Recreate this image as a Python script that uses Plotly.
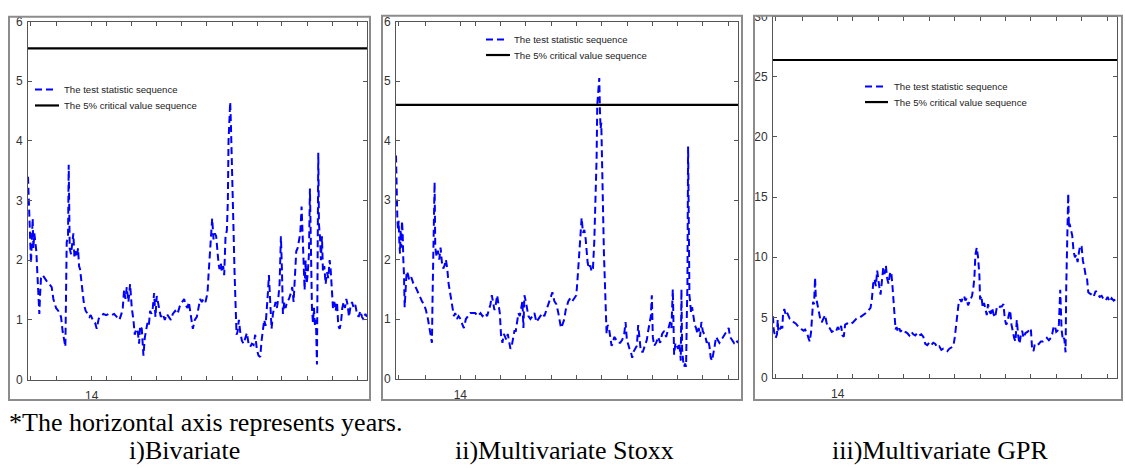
import plotly.graph_objects as go

W, H = 1125, 468

# ---------------- data ----------------
# i) Bivariate: observation index and test statistic
bi_obs = [0, 4, 6, 9, 12, 14, 16, 19, 22, 25, 27, 29, 32, 34, 36, 39, 44, 49, 56, 64, 71, 76, 84, 91, 99,
          104, 109, 112, 116, 120, 122, 125, 129, 133, 136, 139, 142, 146, 150, 153, 156, 161, 164, 168,
          173, 178, 184, 188, 194, 201, 206, 212, 218, 226, 234, 242, 250, 258, 266, 274, 280, 284, 288,
          292, 296, 301, 306, 311, 316, 320, 324, 329, 333, 336, 341, 346, 350, 354, 358, 362, 366, 370,
          374, 378, 382, 386, 390, 394, 398, 404, 410, 416, 422, 428, 434, 441, 448, 456, 462, 468, 472,
          478, 482, 486, 490, 494, 500, 506, 510, 516, 521, 526, 532, 538, 541, 544, 548, 552, 556, 560,
          564, 568, 571, 574, 578, 581, 585, 588, 592, 596, 599, 601, 603, 606, 608, 610, 613, 616, 619,
          622, 625, 628, 632, 636, 641, 646, 651, 656, 661, 666, 671, 676, 681, 686, 691, 696, 700, 704,
          708, 712, 716, 719, 722, 726, 730, 734, 738, 742, 746, 750, 754, 758, 761, 764, 768, 772, 776,
          782, 788, 792, 796, 800, 804, 808, 812, 816, 820, 823, 826, 829, 832, 835, 838, 842, 845, 848,
          851, 854, 857, 860, 863, 866, 868, 870, 872, 875, 878, 881, 884, 888, 892, 896, 900, 904, 907,
          910, 914, 918, 922, 926, 930, 934, 938, 942, 946, 950, 954, 958, 962, 966, 971, 976, 981, 986,
          991, 996, 1001, 1006, 1011, 1016]
bi_stat = [3.4, 2.8, 2.3, 1.95, 2.4, 2.7, 2.2, 2.45, 2.3, 2.15, 1.9, 1.6, 1.3, 1.1, 1.4, 1.7, 1.75, 1.7,
           1.65, 1.6, 1.55, 1.35, 1.2, 1.15, 1.05, 0.8, 0.65, 0.55, 2.3, 2.4, 3.6, 2.2, 2.1, 2.3, 2.45,
           2.05, 2.15, 2.05, 2.2, 1.9, 1.85, 1.6, 1.45, 1.25, 1.15, 1.1, 1.05, 1.08, 1.0, 0.95, 0.85,
           1.02, 1.05, 1.1, 1.08, 1.1, 1.08, 1.1, 1.05, 1.0, 1.1, 1.2, 1.5, 1.35, 1.55, 1.3, 1.6, 1.2,
           1.0, 0.75, 0.85, 0.8, 0.6, 0.9, 0.85, 0.4, 0.7, 0.8, 0.95, 0.9, 1.15, 1.1, 1.2, 1.45, 1.05,
           1.4, 1.3, 1.2, 1.05, 1.1, 1.0, 1.1, 1.05, 1.0, 1.1, 1.15, 1.1, 1.25, 1.3, 1.35, 1.25, 1.2,
           1.3, 1.1, 1.0, 0.85, 1.0, 1.05, 1.2, 1.35, 1.3, 1.35, 1.3, 1.45, 1.75, 2.0, 2.3, 2.7, 2.35,
           2.45, 2.4, 2.1, 1.95, 1.85, 1.95, 1.8, 1.9, 1.75, 2.4, 2.5, 3.0, 4.0, 4.4, 4.65, 4.3, 3.9,
           3.5, 2.5, 1.8, 1.4, 0.75, 0.8, 1.0, 0.8, 0.65, 0.6, 0.7, 0.78, 0.6, 0.55, 0.6, 0.58, 0.75,
           0.5, 0.4, 0.38, 0.65, 0.85, 1.0, 0.9, 1.15, 1.45, 1.75, 1.3, 0.85, 1.1, 1.2, 1.3, 1.2, 1.35,
           1.6, 2.4, 1.85, 1.1, 1.3, 1.2, 1.3, 1.35, 1.45, 1.55, 1.3, 1.75, 2.15, 2.2, 2.3, 2.45, 2.9,
           2.5, 2.2, 1.5, 2.0, 1.6, 1.75, 2.1, 3.2, 1.9, 1.2, 0.95, 1.2, 0.9, 1.0, 0.25, 2.7, 3.8, 2.6,
           2.4, 2.0, 2.4, 1.8, 1.9, 1.6, 1.8, 1.7, 2.0, 1.85, 1.6, 1.2, 1.3, 1.15, 1.3, 0.9, 0.85, 0.95,
           1.2, 1.3, 1.2, 1.35, 1.25, 1.05, 1.2, 1.3, 1.2, 1.25, 1.1, 1.05, 1.15, 1.05, 1.0, 1.1, 1.05]
bi_crit = 5.55

# ii) Multivariate Stoxx
st_obs = [0, 2, 4, 6, 8, 10, 12, 14, 16, 18, 20, 22, 24, 26, 28, 32, 36, 40, 46, 52, 58, 66, 72, 78, 84,
          90, 96, 100, 104, 108, 110, 113, 116, 118, 122, 126, 130, 134, 138, 142, 146, 150, 154, 158,
          162, 166, 170, 174, 178, 183, 188, 194, 200, 204, 210, 216, 223, 230, 238, 246, 254, 260, 268,
          274, 280, 284, 288, 292, 296, 300, 304, 308, 312, 316, 320, 324, 328, 332, 336, 340, 344, 348,
          352, 356, 360, 364, 368, 372, 376, 380, 383, 386, 390, 394, 398, 404, 410, 416, 422, 428, 434,
          440, 446, 452, 458, 464, 470, 476, 482, 488, 492, 496, 500, 506, 510, 514, 518, 524, 530, 536,
          542, 546, 550, 554, 558, 562, 566, 570, 572, 576, 580, 584, 588, 592, 596, 599, 601, 603, 605,
          607, 609, 611, 613, 615, 617, 619, 622, 625, 628, 630, 633, 636, 640, 644, 648, 652, 656, 662,
          668, 674, 680, 686, 690, 694, 698, 702, 706, 710, 714, 718, 724, 728, 732, 736, 742, 748, 754,
          758, 762, 766, 769, 772, 776, 782, 788, 794, 800, 806, 812, 818, 824, 828, 832, 836, 840, 844,
          848, 852, 856, 858, 860, 863, 866, 869, 872, 874, 876, 878, 880, 882, 884, 887, 890, 894, 898,
          902, 906, 910, 914, 918, 922, 926, 930, 934, 938, 942, 946, 950, 954, 958, 962, 966, 972, 978,
          984, 990, 996, 1000, 1004, 1010, 1016, 1022, 1028]
st_stat = [3.75, 3.0, 2.7, 2.5, 2.65, 2.3, 2.1, 2.5, 2.2, 2.65, 2.45, 2.0, 1.75, 1.2, 1.5, 1.8, 1.75,
           1.65, 1.7, 1.6, 1.55, 1.45, 1.35, 1.3, 1.25, 1.15, 1.0, 0.85, 0.7, 0.6, 1.4, 2.2, 3.3, 2.2,
           2.05, 2.15, 2.0, 2.2, 1.95, 1.85, 1.9, 2.0, 1.85, 1.6, 1.45, 1.3, 1.15, 1.05, 1.1, 1.0, 1.05,
           1.0, 0.9, 0.85, 1.0, 1.05, 1.1, 1.1, 1.1, 1.05, 1.1, 1.05, 1.1, 1.05, 1.15, 1.25, 1.4, 1.3,
           1.15, 1.25, 1.4, 1.25, 1.1, 0.7, 0.6, 0.75, 0.7, 0.65, 0.75, 0.65, 0.5, 0.55, 0.7, 0.8, 0.8,
           1.0, 1.1, 1.05, 1.2, 1.3, 0.85, 1.4, 1.3, 1.2, 1.05, 1.0, 1.05, 1.1, 0.95, 1.0, 1.05, 1.1,
           1.05, 1.15, 1.25, 1.35, 1.45, 1.3, 1.25, 1.1, 0.95, 0.85, 0.9, 1.0, 1.15, 1.25, 1.3, 1.35,
           1.3, 1.35, 1.4, 1.7, 2.1, 2.5, 2.7, 2.45, 2.5, 2.35, 2.2, 1.95, 1.85, 1.9, 1.8, 1.85, 2.3,
           2.9, 3.0, 3.7, 4.6, 4.8, 5.0, 5.05, 4.5, 4.2, 4.3, 3.6, 2.8, 2.1, 1.6, 1.0, 0.75, 0.9, 0.85,
           0.7, 0.55, 0.6, 0.7, 0.65, 0.6, 0.6, 0.65, 0.75, 0.95, 0.65, 0.55, 0.5, 0.45, 0.35, 0.45,
           0.5, 0.55, 0.9, 0.6, 0.45, 0.45, 0.55, 0.65, 0.8, 0.9, 1.05, 1.4, 0.7, 0.55, 0.6, 0.7, 0.6,
           0.75, 0.8, 0.7, 0.85, 0.95, 0.85, 1.5, 0.4, 0.6, 0.55, 0.5, 0.6, 0.3, 1.5, 0.5, 0.3, 0.2,
           0.25, 0.2, 1.0, 1.6, 3.9, 1.5, 1.4, 1.3, 1.1, 1.2, 1.05, 0.9, 0.85, 0.75, 0.85, 0.7, 0.95,
           0.8, 0.75, 0.7, 0.6, 0.65, 0.55, 0.35, 0.3, 0.4, 0.55, 0.7, 0.65, 0.6, 0.65, 0.7, 0.75, 0.8,
           0.85, 0.7, 0.65, 0.6, 0.65, 0.6]
st_crit = 4.6

# iii) Multivariate GPR
gp_obs = [0, 2, 5, 8, 12, 14, 16, 20, 24, 28, 30, 34, 38, 42, 46, 50, 56, 62, 68, 74, 80, 86, 92, 96, 102,
          106, 110, 114, 116, 118, 120, 123, 126, 128, 130, 134, 138, 142, 146, 150, 156, 160, 164, 170,
          176, 182, 188, 194, 200, 204, 208, 212, 216, 222, 230, 240, 250, 260, 270, 280, 286, 292, 296,
          300, 304, 308, 312, 315, 318, 322, 326, 330, 334, 338, 342, 346, 350, 354, 358, 361, 364, 367,
          370, 374, 378, 382, 386, 390, 396, 402, 408, 414, 420, 426, 432, 438, 444, 450, 456, 462, 468,
          474, 480, 486, 492, 498, 504, 510, 516, 522, 528, 534, 540, 544, 548, 552, 556, 560, 564, 568,
          572, 576, 580, 584, 588, 592, 596, 600, 603, 606, 610, 614, 618, 620, 624, 628, 632, 636, 640,
          644, 648, 652, 656, 660, 665, 670, 675, 680, 685, 690, 694, 698, 702, 706, 710, 714, 718, 722,
          726, 730, 734, 738, 742, 746, 750, 756, 762, 768, 772, 776, 780, 784, 790, 796, 802, 808, 814,
          820, 826, 832, 836, 840, 844, 848, 852, 856, 860, 864, 868, 872, 876, 878, 880, 882, 884, 886,
          888, 892, 896, 900, 904, 908, 912, 916, 920, 924, 928, 932, 936, 940, 944, 948, 954, 960, 966,
          972, 978, 984, 990, 996, 1002, 1008, 1014, 1020, 1026, 1030]
gp_stat = [5.1, 4.0, 3.6, 3.3, 3.6, 4.8, 3.8, 4.0, 4.2, 4.1, 5.3, 5.7, 5.2, 5.4, 5.1, 4.9, 4.8, 4.6, 4.5,
           4.3, 4.1, 4.0, 3.9, 4.0, 3.7, 3.3, 3.0, 3.8, 5.0, 6.0, 6.3, 6.1, 8.3, 6.8, 6.5, 5.8, 5.5, 4.8,
           4.6, 4.9, 5.2, 4.6, 4.2, 4.1, 3.8, 3.9, 3.8, 4.2, 3.9, 4.3, 3.5, 3.4, 4.4, 4.5, 4.4, 4.6, 4.9,
           5.0, 5.2, 5.4, 5.6, 5.8, 6.5, 7.8, 8.2, 7.6, 8.9, 8.0, 7.6, 6.9, 8.4, 9.1, 8.6, 9.3, 8.2, 7.8,
           8.6, 8.8, 7.5, 6.0, 4.5, 4.0, 4.2, 3.8, 4.1, 3.8, 4.0, 3.9, 3.8, 3.7, 3.5, 3.8, 3.6, 3.5, 3.7,
           3.5, 3.6, 3.4, 2.8, 2.7, 2.9, 2.7, 2.9, 2.8, 2.5, 2.6, 2.3, 2.4, 2.3, 2.2, 2.4, 2.5, 2.6, 3.3,
           4.2, 5.0, 6.2, 6.5, 6.3, 6.6, 6.8, 6.4, 6.6, 6.0, 6.3, 6.6, 6.8, 7.5, 8.3, 10.2, 10.8, 10.0,
           8.5, 6.5, 6.8, 5.8, 6.2, 5.7, 5.2, 6.1, 5.5, 5.3, 5.8, 5.3, 5.0, 5.8, 5.7, 5.9, 5.9, 6.1, 4.9,
           4.4, 4.6, 5.2, 5.6, 4.4, 3.8, 3.3, 3.0, 4.8, 3.5, 2.8, 3.5, 3.9, 3.3, 3.7, 3.8, 4.0, 4.1, 2.3,
           2.2, 2.8, 2.7, 2.8, 3.0, 3.0, 3.1, 3.3, 3.1, 3.3, 3.6, 4.2, 4.3, 3.8, 3.9, 4.4, 7.3, 4.0, 3.1,
           3.3, 2.1, 7.5, 11.0, 13.8, 15.3, 12.5, 12.8, 12.3, 11.8, 10.5, 10.0, 10.2, 9.6, 10.4, 11.0,
           10.9, 9.7, 9.2, 8.5, 8.3, 7.1, 7.0, 6.9, 6.7, 7.2, 7.0, 6.7, 6.8, 6.5, 6.4, 6.7, 6.3, 6.6, 6.4,
           6.5, 6.6]
gp_crit = 26.4

# tick marks along the time axis, as a share of the sample; only one carries a year label
tick_share = [0.008, 0.085, 0.188, 0.232, 0.306, 0.38, 0.454, 0.528, 0.602, 0.676, 0.749, 0.823, 0.897, 0.971]
tick_text = ["", "", "14", "", "", "", "", "", "", "", "", "", "", ""]

legend_names = ["The test statistic sequence", "The 5% critical value sequence"]
captions = ["i)Bivariate", "ii)Multivariate Stoxx", "iii)Multivariate GPR"]
note = "*The horizontal axis represents years."

# ---------------- styling / layout ----------------
BLUE = "#0000FF"
DASH = "7px,4px"
SANS = "Liberation Sans, Arial, sans-serif"
SERIF = "Liberation Serif, Times New Roman, serif"


def px_x(v):
    return v / W


def px_y(v):
    return 1 - v / H


panels = [
    dict(obs=bi_obs, stat=bi_stat, crit=bi_crit, ymax=6, dtick=1,
         plot=(28, 367, 15, 384), frame=(9, 370, 10, 405),
         leg=(35, 53, 59, 61.5, 85, 101.5)),
    dict(obs=st_obs, stat=st_stat, crit=st_crit, ymax=6, dtick=1,
         plot=(396, 738, 15, 383), frame=(382, 742, 9, 405),
         leg=(486, 504, 510, 512, 33.5, 49.5)),
    dict(obs=gp_obs, stat=gp_stat, crit=gp_crit, ymax=30, dtick=5,
         plot=(773, 1117, 10, 382), frame=(754, 1122, 9, 405),
         leg=(865, 883, 888, 892, 82, 98)),
]

fig = go.Figure()
shapes = []
annotations = []
layout_axes = {}

for i, p in enumerate(panels):
    n = "" if i == 0 else str(i + 1)
    xref, yref = "x" + n, "y" + n
    span = p["obs"][-1]

    fig.add_trace(go.Scatter(
        x=p["obs"], y=p["stat"], mode="lines", xaxis=xref, yaxis=yref,
        line=dict(color=BLUE, width=2, dash=DASH), showlegend=False,
        name=legend_names[0]))
    fig.add_trace(go.Scatter(
        x=[p["obs"][0], span], y=[p["crit"], p["crit"]], mode="lines",
        xaxis=xref, yaxis=yref, line=dict(color="black", width=2.2),
        showlegend=False, name=legend_names[1]))

    x0, x1, y0, y1 = p["plot"]
    axis_common = dict(showline=True, linecolor="#555555", linewidth=1, mirror="ticks",
                       ticks="inside", ticklen=4, tickcolor="#555555", showgrid=False,
                       zeroline=False, tickfont=dict(family=SANS, size=12, color="#333333"))
    layout_axes["xaxis" + n] = dict(
        axis_common, domain=[px_x(x0), px_x(x1)], range=[0, span], anchor=yref,
        tickmode="array", tickvals=[s * span for s in tick_share], ticktext=tick_text,
        ticklabelstandoff=5)
    layout_axes["yaxis" + n] = dict(
        axis_common, domain=[px_y(y1), px_y(y0)], range=[0, p["ymax"]], anchor=xref,
        tickmode="linear", tick0=0, dtick=p["dtick"], ticklabelstandoff=2)

    # legend entries
    lx0, lx1d, lx1s, tx, ty1, ty2 = p["leg"]
    shapes.append(dict(type="line", xref="paper", yref="paper",
                       x0=px_x(lx0), x1=px_x(lx1d), y0=px_y(ty1), y1=px_y(ty1),
                       line=dict(color=BLUE, width=2, dash=DASH)))
    shapes.append(dict(type="line", xref="paper", yref="paper",
                       x0=px_x(lx0), x1=px_x(lx1s), y0=px_y(ty2), y1=px_y(ty2),
                       line=dict(color="black", width=2.2)))
    for txt, ty in zip(legend_names, (ty1, ty2)):
        annotations.append(dict(text=txt, xref="paper", yref="paper", x=px_x(tx), y=px_y(ty),
                                xanchor="left", yanchor="middle", showarrow=False,
                                font=dict(family=SANS, size=9.6, color="#222222")))

# strip above the panels hides anything spilling over the top edge
shapes.append(dict(type="rect", xref="paper", yref="paper", x0=0, x1=1, y0=px_y(9), y1=1,
                   fillcolor="white", line=dict(width=0), layer="above"))
# panel frames
for p in panels:
    fx0, fx1, fy0, fy1 = p["frame"]
    shapes.append(dict(type="rect", xref="paper", yref="paper",
                       x0=px_x(fx0), x1=px_x(fx1), y0=px_y(fy1), y1=px_y(fy0),
                       line=dict(color="#8c8c8c", width=2), layer="above"))

# footnote and panel captions
annotations.append(dict(text=note, xref="paper", yref="paper", x=px_x(7), y=px_y(428),
                        xanchor="left", yanchor="middle", showarrow=False,
                        font=dict(family=SERIF, size=26, color="black")))
for cap, cx in zip(captions, (184, 564, 940)):
    annotations.append(dict(text=cap, xref="paper", yref="paper", x=px_x(cx), y=px_y(457),
                            xanchor="center", yanchor="middle", showarrow=False,
                            font=dict(family=SERIF, size=26, color="black")))

fig.update_layout(
    width=W, height=H, margin=dict(l=0, r=0, t=0, b=0),
    paper_bgcolor="white", plot_bgcolor="white", showlegend=False,
    shapes=shapes, annotations=annotations, **layout_axes)

fig.write_html("out.html")
